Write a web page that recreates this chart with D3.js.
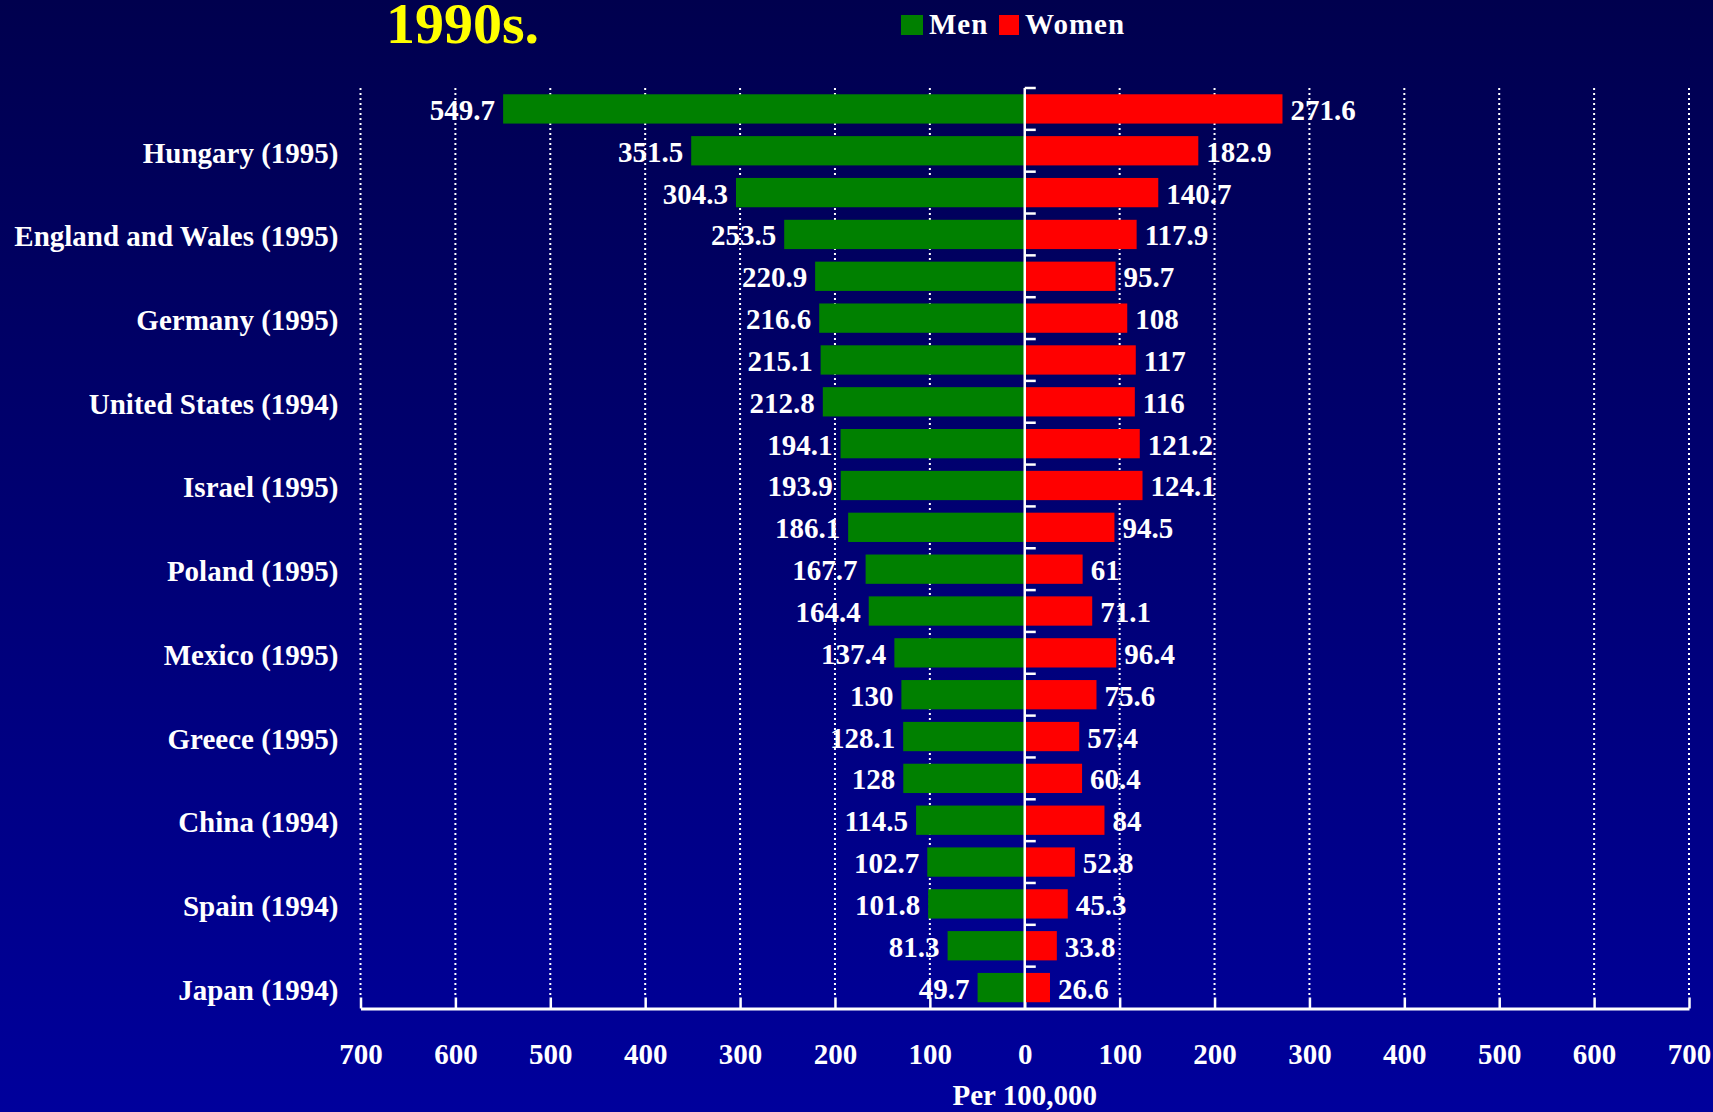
<!DOCTYPE html>
<html>
<head>
<meta charset="utf-8">
<script src="https://d3js.org/d3.v7.min.js"></script>
<style>
  body { margin: 0; padding: 0; overflow: hidden; }
  svg text { font-family: "Liberation Serif", "Times New Roman", serif; font-weight: bold; }
</style>
</head>
<body>
<svg id="chart"></svg>
<script>
// country labels, only every other row is labelled in the original
var countries = ["", "Hungary (1995)", "", "England and Wales (1995)", "", "Germany (1995)",
	"", "United States (1994)", "", "Israel (1995)", "", "Poland (1995)", "", "Mexico (1995)",
	"", "Greece (1995)", "", "China (1994)", "", "Spain (1994)", "", "Japan (1994)"];

var men = [549.7, 351.5, 304.3, 253.5, 220.9, 216.6, 215.1, 212.8, 194.1, 193.9, 186.1,
	167.7, 164.4, 137.4, 130, 128.1, 128, 114.5, 102.7, 101.8, 81.3, 49.7];

var women = [271.6, 182.9, 140.7, 117.9, 95.7, 108, 117, 116, 121.2, 124.1, 94.5,
	61, 71.1, 96.4, 75.6, 57.4, 60.4, 84, 52.8, 45.3, 33.8, 26.6];

var xTicks = [-700, -600, -500, -400, -300, -200, -100, 0, 100, 200, 300, 400, 500, 600, 700];

var seriesNames = ["Men", "Women"];
var seriesColors = ["#008000", "#ff0000"];

var WIDTH = 1713, HEIGHT = 1112;
var PLOT = { top: 88, bottom: 1008.5, left: 360.5, right: 1689 };

var svg = d3.select("#chart").attr("width", WIDTH).attr("height", HEIGHT);

// background gradient
var grad = svg.append("defs").append("linearGradient")
	.attr("id", "bg").attr("x1", 0).attr("y1", 0).attr("x2", 0).attr("y2", 1);
grad.append("stop").attr("offset", "0%").attr("stop-color", "#00004e");
grad.append("stop").attr("offset", "100%").attr("stop-color", "#00009c");
svg.append("rect").attr("width", WIDTH).attr("height", HEIGHT).attr("fill", "url(#bg)");

var idx = d3.range(men.length);

var x = d3.scaleLinear().domain([-700, 700]).range([PLOT.left, PLOT.right]);
var y = d3.scaleBand().domain(idx).range([PLOT.top, PLOT.bottom])
	.paddingInner(0.3).paddingOuter(0.15);

// dotted grid lines
svg.append("g")
	.selectAll("line")
	.data(xTicks.filter(function(d) { return d != 0; }))
	.enter().append("line")
	.attr("x1", function(d) { return x(d); })
	.attr("x2", function(d) { return x(d); })
	.attr("y1", PLOT.top)
	.attr("y2", PLOT.bottom - 11)
	.attr("stroke", "#fff")
	.attr("stroke-width", 2)
	.attr("stroke-dasharray", "2,3");

// bottom axis
var xAxis = d3.axisBottom(x).tickValues(xTicks)
	.tickFormat(function(d) { return Math.abs(d); })
	.tickSizeInner(-11).tickSizeOuter(0);

var gx = svg.append("g")
	.attr("transform", "translate(0," + PLOT.bottom + ")")
	.call(xAxis);
gx.select(".domain").attr("stroke", "#fff").attr("stroke-width", 3);
gx.selectAll(".tick line").attr("stroke", "#fff").attr("stroke-width", 2.5);
gx.selectAll(".tick text")
	.attr("y", 55).attr("dy", 0)
	.attr("fill", "#fff")
	.style("font-size", "29px");

svg.append("text")
	.attr("x", x(0)).attr("y", 1105)
	.attr("text-anchor", "middle")
	.attr("fill", "#fff")
	.style("font-size", "29px")
	.text("Per 100,000");

// bars
svg.append("g").selectAll("rect")
	.data(idx).enter().append("rect")
	.attr("x", function(i) { return x(-men[i]); })
	.attr("y", function(i) { return y(i); })
	.attr("width", function(i) { return x(0) - x(-men[i]); })
	.attr("height", y.bandwidth())
	.attr("fill", seriesColors[0]);

svg.append("g").selectAll("rect")
	.data(idx).enter().append("rect")
	.attr("x", x(0))
	.attr("y", function(i) { return y(i); })
	.attr("width", function(i) { return x(women[i]) - x(0); })
	.attr("height", y.bandwidth())
	.attr("fill", seriesColors[1]);

// value labels
svg.append("g").selectAll("text")
	.data(idx).enter().append("text")
	.attr("x", function(i) { return x(-men[i]) - 8; })
	.attr("y", function(i) { return y(i) + y.bandwidth() / 2 + 11; })
	.attr("text-anchor", "end")
	.attr("fill", "#fff")
	.style("font-size", "29px")
	.text(function(i) { return men[i]; });

svg.append("g").selectAll("text")
	.data(idx).enter().append("text")
	.attr("x", function(i) { return x(women[i]) + 8; })
	.attr("y", function(i) { return y(i) + y.bandwidth() / 2 + 11; })
	.attr("fill", "#fff")
	.style("font-size", "29px")
	.text(function(i) { return women[i]; });

// zero line with ticks at band boundaries
svg.append("line")
	.attr("x1", x(0)).attr("x2", x(0))
	.attr("y1", PLOT.top).attr("y2", PLOT.bottom)
	.attr("stroke", "#fff").attr("stroke-width", 2.5);

svg.append("g").selectAll("line")
	.data(idx).enter().append("line")
	.attr("x1", x(0)).attr("x2", x(0) + 11)
	.attr("y1", function(i) { return y(i) - y.step() * y.paddingInner() / 2; })
	.attr("y2", function(i) { return y(i) - y.step() * y.paddingInner() / 2; })
	.attr("stroke", "#fff").attr("stroke-width", 2.5);

// category labels
svg.append("g").selectAll("text")
	.data(idx.filter(function(i) { return countries[i] != ""; }))
	.enter().append("text")
	.attr("x", PLOT.left - 22)
	.attr("y", function(i) { return y(i) + y.bandwidth() / 2 + 12; })
	.attr("text-anchor", "end")
	.attr("fill", "#fff")
	.style("font-size", "29px")
	.text(function(i) { return countries[i]; });

// title
svg.append("text")
	.attr("x", 386).attr("y", 43)
	.attr("fill", "#ffff00")
	.style("font-size", "58px")
	.text("1990s.");

// legend
var legend = svg.append("g").selectAll("g")
	.data(seriesNames).enter().append("g")
	.attr("transform", function(d, i) { return "translate(" + (i == 0 ? 901 : 999) + ",15)"; });
legend.append("rect")
	.attr("width", function(d, i) { return i == 0 ? 22 : 20; })
	.attr("height", 20)
	.attr("fill", function(d, i) { return seriesColors[i]; });
legend.append("text")
	.attr("x", function(d, i) { return i == 0 ? 28 : 26; })
	.attr("y", 18.5)
	.attr("fill", "#fff")
	.style("font-size", "29px")
	.style("letter-spacing", "1px")
	.text(function(d) { return d; });
</script>
</body>
</html>
